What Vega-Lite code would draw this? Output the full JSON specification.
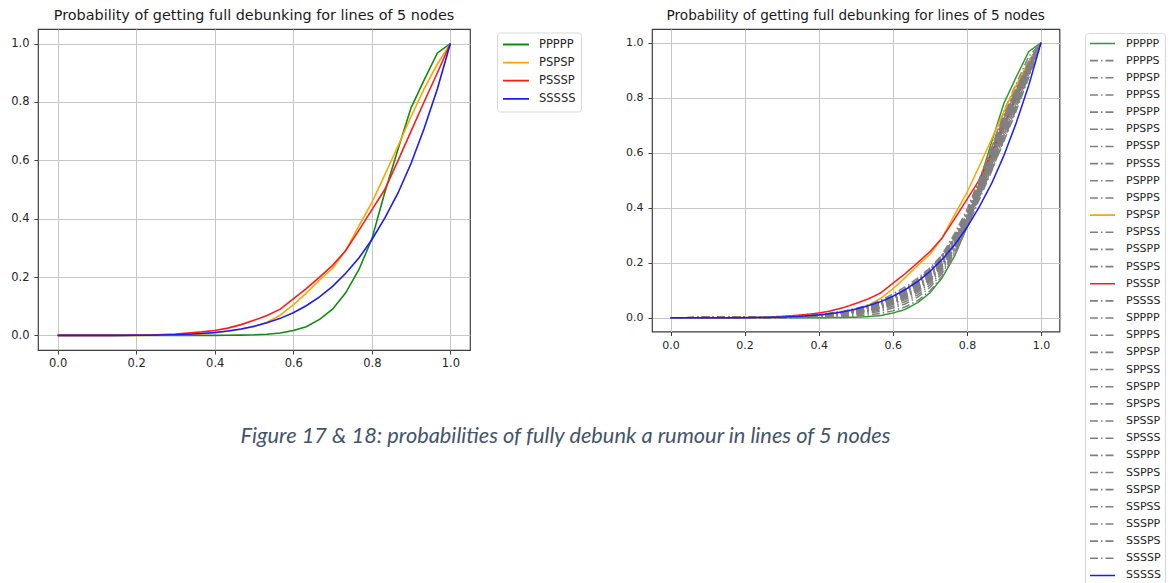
{
  "$schema": "https://vega.github.io/schema/vega-lite/v6.json",
  "background": "white",
  "padding": {"left": 10, "top": 7, "right": 5, "bottom": 5},
  "datasets": {
    "runs": [
      {"s":"PPPPP","x":0,"y":0},{"s":"PPPPP","x":0.033,"y":0},{"s":"PPPPP","x":0.067,"y":0},{"s":"PPPPP","x":0.1,"y":0},{"s":"PPPPP","x":0.133,"y":0},{"s":"PPPPP","x":0.167,"y":0},{"s":"PPPPP","x":0.2,"y":0},{"s":"PPPPP","x":0.233,"y":0},{"s":"PPPPP","x":0.267,"y":0},{"s":"PPPPP","x":0.3,"y":0},{"s":"PPPPP","x":0.333,"y":0},{"s":"PPPPP","x":0.367,"y":0},{"s":"PPPPP","x":0.4,"y":0},{"s":"PPPPP","x":0.433,"y":0.0005},{"s":"PPPPP","x":0.467,"y":0.001},{"s":"PPPPP","x":0.5,"y":0.002},{"s":"PPPPP","x":0.533,"y":0.004},{"s":"PPPPP","x":0.567,"y":0.008},{"s":"PPPPP","x":0.6,"y":0.017},{"s":"PPPPP","x":0.633,"y":0.03},{"s":"PPPPP","x":0.667,"y":0.055},{"s":"PPPPP","x":0.7,"y":0.09},{"s":"PPPPP","x":0.733,"y":0.145},{"s":"PPPPP","x":0.767,"y":0.225},{"s":"PPPPP","x":0.8,"y":0.33},{"s":"PPPPP","x":0.833,"y":0.49},{"s":"PPPPP","x":0.867,"y":0.64},{"s":"PPPPP","x":0.9,"y":0.78},{"s":"PPPPP","x":0.933,"y":0.875},{"s":"PPPPP","x":0.967,"y":0.968},{"s":"PPPPP","x":1,"y":1},

      {"s":"PPPPS","x":0,"y":0},{"s":"PPPPS","x":0.3,"y":0},{"s":"PPPPS","x":0.4,"y":0.002},{"s":"PPPPS","x":0.467,"y":0.004},{"s":"PPPPS","x":0.5,"y":0.006},{"s":"PPPPS","x":0.533,"y":0.01},{"s":"PPPPS","x":0.567,"y":0.016},{"s":"PPPPS","x":0.6,"y":0.025},{"s":"PPPPS","x":0.633,"y":0.039},{"s":"PPPPS","x":0.667,"y":0.062},{"s":"PPPPS","x":0.7,"y":0.097},{"s":"PPPPS","x":0.733,"y":0.151},{"s":"PPPPS","x":0.767,"y":0.227},{"s":"PPPPS","x":0.8,"y":0.33},{"s":"PPPPS","x":0.833,"y":0.477},{"s":"PPPPS","x":0.867,"y":0.617},{"s":"PPPPS","x":0.9,"y":0.752},{"s":"PPPPS","x":0.933,"y":0.85},{"s":"PPPPS","x":0.967,"y":0.95},{"s":"PPPPS","x":1,"y":1},

      {"s":"PPPSP","x":0,"y":0},{"s":"PPPSP","x":0.3,"y":0.001},{"s":"PPPSP","x":0.4,"y":0.003},{"s":"PPPSP","x":0.467,"y":0.007},{"s":"PPPSP","x":0.5,"y":0.011},{"s":"PPPSP","x":0.533,"y":0.016},{"s":"PPPSP","x":0.567,"y":0.023},{"s":"PPPSP","x":0.6,"y":0.035},{"s":"PPPSP","x":0.633,"y":0.05},{"s":"PPPSP","x":0.667,"y":0.075},{"s":"PPPSP","x":0.7,"y":0.11},{"s":"PPPSP","x":0.733,"y":0.162},{"s":"PPPSP","x":0.767,"y":0.234},{"s":"PPPSP","x":0.8,"y":0.329},{"s":"PPPSP","x":0.833,"y":0.464},{"s":"PPPSP","x":0.867,"y":0.595},{"s":"PPPSP","x":0.9,"y":0.723},{"s":"PPPSP","x":0.933,"y":0.825},{"s":"PPPSP","x":0.967,"y":0.931},{"s":"PPPSP","x":1,"y":1},

      {"s":"PPPSS","x":0,"y":0},{"s":"PPPSS","x":0.3,"y":0.001},{"s":"PPPSS","x":0.4,"y":0.004},{"s":"PPPSS","x":0.467,"y":0.01},{"s":"PPPSS","x":0.5,"y":0.014},{"s":"PPPSS","x":0.533,"y":0.02},{"s":"PPPSS","x":0.567,"y":0.028},{"s":"PPPSS","x":0.6,"y":0.041},{"s":"PPPSS","x":0.633,"y":0.058},{"s":"PPPSS","x":0.667,"y":0.083},{"s":"PPPSS","x":0.7,"y":0.119},{"s":"PPPSS","x":0.733,"y":0.169},{"s":"PPPSS","x":0.767,"y":0.239},{"s":"PPPSS","x":0.8,"y":0.329},{"s":"PPPSS","x":0.833,"y":0.455},{"s":"PPPSS","x":0.867,"y":0.58},{"s":"PPPSS","x":0.9,"y":0.704},{"s":"PPPSS","x":0.933,"y":0.809},{"s":"PPPSS","x":0.967,"y":0.919},{"s":"PPPSS","x":1,"y":1},

      {"s":"PPSPP","x":0,"y":0},{"s":"PPSPP","x":0.3,"y":0.002},{"s":"PPSPP","x":0.4,"y":0.006},{"s":"PPSPP","x":0.467,"y":0.013},{"s":"PPSPP","x":0.5,"y":0.019},{"s":"PPSPP","x":0.533,"y":0.026},{"s":"PPSPP","x":0.567,"y":0.036},{"s":"PPSPP","x":0.6,"y":0.053},{"s":"PPSPP","x":0.633,"y":0.072},{"s":"PPSPP","x":0.667,"y":0.1},{"s":"PPSPP","x":0.7,"y":0.137},{"s":"PPSPP","x":0.733,"y":0.189},{"s":"PPSPP","x":0.767,"y":0.262},{"s":"PPSPP","x":0.8,"y":0.355},{"s":"PPSPP","x":0.833,"y":0.48},{"s":"PPSPP","x":0.867,"y":0.608},{"s":"PPSPP","x":0.9,"y":0.732},{"s":"PPSPP","x":0.933,"y":0.832},{"s":"PPSPP","x":0.967,"y":0.933},{"s":"PPSPP","x":1,"y":1},

      {"s":"PPSPS","x":0,"y":0},{"s":"PPSPS","x":0.3,"y":0.002},{"s":"PPSPS","x":0.4,"y":0.006},{"s":"PPSPS","x":0.467,"y":0.013},{"s":"PPSPS","x":0.5,"y":0.019},{"s":"PPSPS","x":0.533,"y":0.026},{"s":"PPSPS","x":0.567,"y":0.036},{"s":"PPSPS","x":0.6,"y":0.051},{"s":"PPSPS","x":0.633,"y":0.07},{"s":"PPSPS","x":0.667,"y":0.098},{"s":"PPSPS","x":0.7,"y":0.133},{"s":"PPSPS","x":0.733,"y":0.185},{"s":"PPSPS","x":0.767,"y":0.255},{"s":"PPSPS","x":0.8,"y":0.344},{"s":"PPSPS","x":0.833,"y":0.466},{"s":"PPSPS","x":0.867,"y":0.589},{"s":"PPSPS","x":0.9,"y":0.711},{"s":"PPSPS","x":0.933,"y":0.814},{"s":"PPSPS","x":0.967,"y":0.921},{"s":"PPSPS","x":1,"y":1},

      {"s":"PPSSP","x":0,"y":0},{"s":"PPSSP","x":0.3,"y":0.003},{"s":"PPSSP","x":0.4,"y":0.009},{"s":"PPSSP","x":0.467,"y":0.019},{"s":"PPSSP","x":0.5,"y":0.027},{"s":"PPSSP","x":0.533,"y":0.036},{"s":"PPSSP","x":0.567,"y":0.049},{"s":"PPSSP","x":0.6,"y":0.071},{"s":"PPSSP","x":0.633,"y":0.094},{"s":"PPSSP","x":0.667,"y":0.125},{"s":"PPSSP","x":0.7,"y":0.163},{"s":"PPSSP","x":0.733,"y":0.215},{"s":"PPSSP","x":0.767,"y":0.29},{"s":"PPSSP","x":0.8,"y":0.38},{"s":"PPSSP","x":0.833,"y":0.495},{"s":"PPSSP","x":0.867,"y":0.62},{"s":"PPSSP","x":0.9,"y":0.74},{"s":"PPSSP","x":0.933,"y":0.838},{"s":"PPSSP","x":0.967,"y":0.934},{"s":"PPSSP","x":1,"y":1},

      {"s":"PPSSS","x":0,"y":0},{"s":"PPSSS","x":0.3,"y":0.001},{"s":"PPSSS","x":0.4,"y":0.005},{"s":"PPSSS","x":0.467,"y":0.012},{"s":"PPSSS","x":0.5,"y":0.017},{"s":"PPSSS","x":0.533,"y":0.024},{"s":"PPSSS","x":0.567,"y":0.033},{"s":"PPSSS","x":0.6,"y":0.047},{"s":"PPSSS","x":0.633,"y":0.065},{"s":"PPSSS","x":0.667,"y":0.091},{"s":"PPSSS","x":0.7,"y":0.127},{"s":"PPSSS","x":0.733,"y":0.176},{"s":"PPSSS","x":0.767,"y":0.243},{"s":"PPSSS","x":0.8,"y":0.329},{"s":"PPSSS","x":0.833,"y":0.446},{"s":"PPSSS","x":0.867,"y":0.565},{"s":"PPSSS","x":0.9,"y":0.685},{"s":"PPSSS","x":0.933,"y":0.792},{"s":"PPSSS","x":0.967,"y":0.907},{"s":"PPSSS","x":1,"y":1},

      {"s":"PSPPP","x":0,"y":0},{"s":"PSPPP","x":0.3,"y":0.001},{"s":"PSPPP","x":0.4,"y":0.005},{"s":"PSPPP","x":0.467,"y":0.011},{"s":"PSPPP","x":0.5,"y":0.017},{"s":"PSPPP","x":0.533,"y":0.024},{"s":"PSPPP","x":0.567,"y":0.036},{"s":"PSPPP","x":0.6,"y":0.054},{"s":"PSPPP","x":0.633,"y":0.076},{"s":"PSPPP","x":0.667,"y":0.106},{"s":"PSPPP","x":0.7,"y":0.142},{"s":"PSPPP","x":0.733,"y":0.196},{"s":"PSPPP","x":0.767,"y":0.271},{"s":"PSPPP","x":0.8,"y":0.361},{"s":"PSPPP","x":0.833,"y":0.483},{"s":"PSPPP","x":0.867,"y":0.605},{"s":"PSPPP","x":0.9,"y":0.725},{"s":"PSPPP","x":0.933,"y":0.826},{"s":"PSPPP","x":0.967,"y":0.928},{"s":"PSPPP","x":1,"y":1},

      {"s":"PSPPS","x":0,"y":0},{"s":"PSPPS","x":0.3,"y":0.002},{"s":"PSPPS","x":0.4,"y":0.007},{"s":"PSPPS","x":0.467,"y":0.015},{"s":"PSPPS","x":0.5,"y":0.022},{"s":"PSPPS","x":0.533,"y":0.03},{"s":"PSPPS","x":0.567,"y":0.041},{"s":"PSPPS","x":0.6,"y":0.058},{"s":"PSPPS","x":0.633,"y":0.078},{"s":"PSPPS","x":0.667,"y":0.106},{"s":"PSPPS","x":0.7,"y":0.142},{"s":"PSPPS","x":0.733,"y":0.192},{"s":"PSPPS","x":0.767,"y":0.26},{"s":"PSPPS","x":0.8,"y":0.344},{"s":"PSPPS","x":0.833,"y":0.457},{"s":"PSPPS","x":0.867,"y":0.574},{"s":"PSPPS","x":0.9,"y":0.692},{"s":"PSPPS","x":0.933,"y":0.797},{"s":"PSPPS","x":0.967,"y":0.909},{"s":"PSPPS","x":1,"y":1},

      {"s":"PSPSP","x":0,"y":0},{"s":"PSPSP","x":0.033,"y":0},{"s":"PSPSP","x":0.067,"y":0},{"s":"PSPSP","x":0.1,"y":0},{"s":"PSPSP","x":0.133,"y":0},{"s":"PSPSP","x":0.167,"y":0},{"s":"PSPSP","x":0.2,"y":0},{"s":"PSPSP","x":0.233,"y":0.0003},{"s":"PSPSP","x":0.267,"y":0.001},{"s":"PSPSP","x":0.3,"y":0.002},{"s":"PSPSP","x":0.333,"y":0.003},{"s":"PSPSP","x":0.367,"y":0.005},{"s":"PSPSP","x":0.4,"y":0.009},{"s":"PSPSP","x":0.433,"y":0.014},{"s":"PSPSP","x":0.467,"y":0.021},{"s":"PSPSP","x":0.5,"y":0.03},{"s":"PSPSP","x":0.533,"y":0.045},{"s":"PSPSP","x":0.567,"y":0.07},{"s":"PSPSP","x":0.6,"y":0.105},{"s":"PSPSP","x":0.633,"y":0.145},{"s":"PSPSP","x":0.667,"y":0.19},{"s":"PSPSP","x":0.7,"y":0.23},{"s":"PSPSP","x":0.733,"y":0.29},{"s":"PSPSP","x":0.767,"y":0.375},{"s":"PSPSP","x":0.8,"y":0.455},{"s":"PSPSP","x":0.833,"y":0.55},{"s":"PSPSP","x":0.867,"y":0.65},{"s":"PSPSP","x":0.9,"y":0.75},{"s":"PSPSP","x":0.933,"y":0.845},{"s":"PSPSP","x":0.967,"y":0.93},{"s":"PSPSP","x":1,"y":1},

      {"s":"PSPSS","x":0,"y":0},{"s":"PSPSS","x":0.3,"y":0.002},{"s":"PSPSS","x":0.4,"y":0.007},{"s":"PSPSS","x":0.467,"y":0.016},{"s":"PSPSS","x":0.5,"y":0.022},{"s":"PSPSS","x":0.533,"y":0.03},{"s":"PSPSS","x":0.567,"y":0.041},{"s":"PSPSS","x":0.6,"y":0.059},{"s":"PSPSS","x":0.633,"y":0.08},{"s":"PSPSS","x":0.667,"y":0.108},{"s":"PSPSS","x":0.7,"y":0.145},{"s":"PSPSS","x":0.733,"y":0.196},{"s":"PSPSS","x":0.767,"y":0.267},{"s":"PSPSS","x":0.8,"y":0.355},{"s":"PSPSS","x":0.833,"y":0.471},{"s":"PSPSS","x":0.867,"y":0.593},{"s":"PSPSS","x":0.9,"y":0.713},{"s":"PSPSS","x":0.933,"y":0.815},{"s":"PSPSS","x":0.967,"y":0.921},{"s":"PSPSS","x":1,"y":1},

      {"s":"PSSPP","x":0,"y":0},{"s":"PSSPP","x":0.3,"y":0.001},{"s":"PSSPP","x":0.4,"y":0.007},{"s":"PSSPP","x":0.467,"y":0.015},{"s":"PSSPP","x":0.5,"y":0.022},{"s":"PSSPP","x":0.533,"y":0.032},{"s":"PSSPP","x":0.567,"y":0.049},{"s":"PSSPP","x":0.6,"y":0.073},{"s":"PSSPP","x":0.633,"y":0.101},{"s":"PSSPP","x":0.667,"y":0.136},{"s":"PSSPP","x":0.7,"y":0.174},{"s":"PSSPP","x":0.733,"y":0.229},{"s":"PSSPP","x":0.767,"y":0.307},{"s":"PSSPP","x":0.8,"y":0.392},{"s":"PSSPP","x":0.833,"y":0.502},{"s":"PSSPP","x":0.867,"y":0.615},{"s":"PSSPP","x":0.9,"y":0.727},{"s":"PSSPP","x":0.933,"y":0.827},{"s":"PSSPP","x":0.967,"y":0.924},{"s":"PSSPP","x":1,"y":1},

      {"s":"PSSPS","x":0,"y":0},{"s":"PSSPS","x":0.3,"y":0.001},{"s":"PSSPS","x":0.4,"y":0.006},{"s":"PSSPS","x":0.467,"y":0.014},{"s":"PSSPS","x":0.5,"y":0.02},{"s":"PSSPS","x":0.533,"y":0.028},{"s":"PSSPS","x":0.567,"y":0.041},{"s":"PSSPS","x":0.6,"y":0.06},{"s":"PSSPS","x":0.633,"y":0.083},{"s":"PSSPS","x":0.667,"y":0.114},{"s":"PSSPS","x":0.7,"y":0.151},{"s":"PSSPS","x":0.733,"y":0.203},{"s":"PSSPS","x":0.767,"y":0.275},{"s":"PSSPS","x":0.8,"y":0.361},{"s":"PSSPS","x":0.833,"y":0.474},{"s":"PSSPS","x":0.867,"y":0.59},{"s":"PSSPS","x":0.9,"y":0.706},{"s":"PSSPS","x":0.933,"y":0.81},{"s":"PSSPS","x":0.967,"y":0.916},{"s":"PSSPS","x":1,"y":1},

      {"s":"PSSSP","x":0,"y":0},{"s":"PSSSP","x":0.033,"y":0},{"s":"PSSSP","x":0.067,"y":0},{"s":"PSSSP","x":0.1,"y":0},{"s":"PSSSP","x":0.133,"y":0.0002},{"s":"PSSSP","x":0.167,"y":0.0005},{"s":"PSSSP","x":0.2,"y":0.001},{"s":"PSSSP","x":0.233,"y":0.0015},{"s":"PSSSP","x":0.267,"y":0.003},{"s":"PSSSP","x":0.3,"y":0.005},{"s":"PSSSP","x":0.333,"y":0.008},{"s":"PSSSP","x":0.367,"y":0.012},{"s":"PSSSP","x":0.4,"y":0.017},{"s":"PSSSP","x":0.433,"y":0.025},{"s":"PSSSP","x":0.467,"y":0.037},{"s":"PSSSP","x":0.5,"y":0.052},{"s":"PSSSP","x":0.533,"y":0.068},{"s":"PSSSP","x":0.567,"y":0.09},{"s":"PSSSP","x":0.6,"y":0.125},{"s":"PSSSP","x":0.633,"y":0.16},{"s":"PSSSP","x":0.667,"y":0.2},{"s":"PSSSP","x":0.7,"y":0.24},{"s":"PSSSP","x":0.733,"y":0.29},{"s":"PSSSP","x":0.767,"y":0.36},{"s":"PSSSP","x":0.8,"y":0.43},{"s":"PSSSP","x":0.833,"y":0.5},{"s":"PSSSP","x":0.867,"y":0.6},{"s":"PSSSP","x":0.9,"y":0.7},{"s":"PSSSP","x":0.933,"y":0.8},{"s":"PSSSP","x":0.967,"y":0.9},{"s":"PSSSP","x":1,"y":1},

      {"s":"PSSSS","x":0,"y":0},{"s":"PSSSS","x":0.3,"y":0.001},{"s":"PSSSS","x":0.4,"y":0.006},{"s":"PSSSS","x":0.467,"y":0.014},{"s":"PSSSS","x":0.5,"y":0.02},{"s":"PSSSS","x":0.533,"y":0.028},{"s":"PSSSS","x":0.567,"y":0.038},{"s":"PSSSS","x":0.6,"y":0.053},{"s":"PSSSS","x":0.633,"y":0.073},{"s":"PSSSS","x":0.667,"y":0.099},{"s":"PSSSS","x":0.7,"y":0.135},{"s":"PSSSS","x":0.733,"y":0.183},{"s":"PSSSS","x":0.767,"y":0.248},{"s":"PSSSS","x":0.8,"y":0.329},{"s":"PSSSS","x":0.833,"y":0.437},{"s":"PSSSS","x":0.867,"y":0.55},{"s":"PSSSS","x":0.9,"y":0.666},{"s":"PSSSS","x":0.933,"y":0.775},{"s":"PSSSS","x":0.967,"y":0.895},{"s":"PSSSS","x":1,"y":1},

      {"s":"SPPPP","x":0,"y":0},{"s":"SPPPP","x":0.3,"y":0.003},{"s":"SPPPP","x":0.4,"y":0.009},{"s":"SPPPP","x":0.467,"y":0.019},{"s":"SPPPP","x":0.5,"y":0.027},{"s":"SPPPP","x":0.533,"y":0.036},{"s":"SPPPP","x":0.567,"y":0.049},{"s":"SPPPP","x":0.6,"y":0.069},{"s":"SPPPP","x":0.633,"y":0.092},{"s":"SPPPP","x":0.667,"y":0.123},{"s":"SPPPP","x":0.7,"y":0.16},{"s":"SPPPP","x":0.733,"y":0.211},{"s":"SPPPP","x":0.767,"y":0.283},{"s":"SPPPP","x":0.8,"y":0.37},{"s":"SPPPP","x":0.833,"y":0.481},{"s":"SPPPP","x":0.867,"y":0.602},{"s":"SPPPP","x":0.9,"y":0.72},{"s":"SPPPP","x":0.933,"y":0.82},{"s":"SPPPP","x":0.967,"y":0.923},{"s":"SPPPP","x":1,"y":1},

      {"s":"SPPPS","x":0,"y":0},{"s":"SPPPS","x":0.3,"y":0.002},{"s":"SPPPS","x":0.4,"y":0.008},{"s":"SPPPS","x":0.467,"y":0.018},{"s":"SPPPS","x":0.5,"y":0.025},{"s":"SPPPS","x":0.533,"y":0.034},{"s":"SPPPS","x":0.567,"y":0.046},{"s":"SPPPS","x":0.6,"y":0.065},{"s":"SPPPS","x":0.633,"y":0.087},{"s":"SPPPS","x":0.667,"y":0.116},{"s":"SPPPS","x":0.7,"y":0.153},{"s":"SPPPS","x":0.733,"y":0.203},{"s":"SPPPS","x":0.767,"y":0.271},{"s":"SPPPS","x":0.8,"y":0.355},{"s":"SPPPS","x":0.833,"y":0.462},{"s":"SPPPS","x":0.867,"y":0.577},{"s":"SPPPS","x":0.9,"y":0.694},{"s":"SPPPS","x":0.933,"y":0.798},{"s":"SPPPS","x":0.967,"y":0.908},{"s":"SPPPS","x":1,"y":1},

      {"s":"SPPSP","x":0,"y":0},{"s":"SPPSP","x":0.3,"y":0.002},{"s":"SPPSP","x":0.4,"y":0.008},{"s":"SPPSP","x":0.467,"y":0.018},{"s":"SPPSP","x":0.5,"y":0.026},{"s":"SPPSP","x":0.533,"y":0.035},{"s":"SPPSP","x":0.567,"y":0.048},{"s":"SPPSP","x":0.6,"y":0.067},{"s":"SPPSP","x":0.633,"y":0.09},{"s":"SPPSP","x":0.667,"y":0.12},{"s":"SPPSP","x":0.7,"y":0.156},{"s":"SPPSP","x":0.733,"y":0.207},{"s":"SPPSP","x":0.767,"y":0.276},{"s":"SPPSP","x":0.8,"y":0.359},{"s":"SPPSP","x":0.833,"y":0.467},{"s":"SPPSP","x":0.867,"y":0.583},{"s":"SPPSP","x":0.9,"y":0.699},{"s":"SPPSP","x":0.933,"y":0.802},{"s":"SPPSP","x":0.967,"y":0.911},{"s":"SPPSP","x":1,"y":1},

      {"s":"SPPSS","x":0,"y":0},{"s":"SPPSS","x":0.3,"y":0.001},{"s":"SPPSS","x":0.4,"y":0.007},{"s":"SPPSS","x":0.467,"y":0.016},{"s":"SPPSS","x":0.5,"y":0.022},{"s":"SPPSS","x":0.533,"y":0.031},{"s":"SPPSS","x":0.567,"y":0.043},{"s":"SPPSS","x":0.6,"y":0.059},{"s":"SPPSS","x":0.633,"y":0.08},{"s":"SPPSS","x":0.667,"y":0.107},{"s":"SPPSS","x":0.7,"y":0.143},{"s":"SPPSS","x":0.733,"y":0.19},{"s":"SPPSS","x":0.767,"y":0.252},{"s":"SPPSS","x":0.8,"y":0.329},{"s":"SPPSS","x":0.833,"y":0.428},{"s":"SPPSS","x":0.867,"y":0.534},{"s":"SPPSS","x":0.9,"y":0.647},{"s":"SPPSS","x":0.933,"y":0.758},{"s":"SPPSS","x":0.967,"y":0.882},{"s":"SPPSS","x":1,"y":1},

      {"s":"SPSPP","x":0,"y":0},{"s":"SPSPP","x":0.3,"y":0.002},{"s":"SPSPP","x":0.4,"y":0.008},{"s":"SPSPP","x":0.467,"y":0.017},{"s":"SPSPP","x":0.5,"y":0.025},{"s":"SPSPP","x":0.533,"y":0.034},{"s":"SPSPP","x":0.567,"y":0.049},{"s":"SPSPP","x":0.6,"y":0.072},{"s":"SPSPP","x":0.633,"y":0.098},{"s":"SPSPP","x":0.667,"y":0.131},{"s":"SPSPP","x":0.7,"y":0.169},{"s":"SPSPP","x":0.733,"y":0.222},{"s":"SPSPP","x":0.767,"y":0.299},{"s":"SPSPP","x":0.8,"y":0.386},{"s":"SPSPP","x":0.833,"y":0.499},{"s":"SPSPP","x":0.867,"y":0.618},{"s":"SPSPP","x":0.9,"y":0.734},{"s":"SPSPP","x":0.933,"y":0.833},{"s":"SPSPP","x":0.967,"y":0.929},{"s":"SPSPP","x":1,"y":1},

      {"s":"SPSPS","x":0,"y":0},{"s":"SPSPS","x":0.3,"y":0.002},{"s":"SPSPS","x":0.4,"y":0.008},{"s":"SPSPS","x":0.467,"y":0.017},{"s":"SPSPS","x":0.5,"y":0.024},{"s":"SPSPS","x":0.533,"y":0.034},{"s":"SPSPS","x":0.567,"y":0.049},{"s":"SPSPS","x":0.6,"y":0.07},{"s":"SPSPS","x":0.633,"y":0.096},{"s":"SPSPS","x":0.667,"y":0.128},{"s":"SPSPS","x":0.7,"y":0.165},{"s":"SPSPS","x":0.733,"y":0.218},{"s":"SPSPS","x":0.767,"y":0.292},{"s":"SPSPS","x":0.8,"y":0.376},{"s":"SPSPS","x":0.833,"y":0.485},{"s":"SPSPS","x":0.867,"y":0.599},{"s":"SPSPS","x":0.9,"y":0.713},{"s":"SPSPS","x":0.933,"y":0.815},{"s":"SPSPS","x":0.967,"y":0.918},{"s":"SPSPS","x":1,"y":1},

      {"s":"SPSSP","x":0,"y":0},{"s":"SPSSP","x":0.3,"y":0.003},{"s":"SPSSP","x":0.4,"y":0.009},{"s":"SPSSP","x":0.467,"y":0.02},{"s":"SPSSP","x":0.5,"y":0.029},{"s":"SPSSP","x":0.533,"y":0.039},{"s":"SPSSP","x":0.567,"y":0.053},{"s":"SPSSP","x":0.6,"y":0.074},{"s":"SPSSP","x":0.633,"y":0.098},{"s":"SPSSP","x":0.667,"y":0.128},{"s":"SPSSP","x":0.7,"y":0.165},{"s":"SPSSP","x":0.733,"y":0.214},{"s":"SPSSP","x":0.767,"y":0.281},{"s":"SPSSP","x":0.8,"y":0.359},{"s":"SPSSP","x":0.833,"y":0.458},{"s":"SPSSP","x":0.867,"y":0.568},{"s":"SPSSP","x":0.9,"y":0.68},{"s":"SPSSP","x":0.933,"y":0.786},{"s":"SPSSP","x":0.967,"y":0.899},{"s":"SPSSP","x":1,"y":1},

      {"s":"SPSSS","x":0,"y":0},{"s":"SPSSS","x":0.3,"y":0.002},{"s":"SPSSS","x":0.4,"y":0.009},{"s":"SPSSS","x":0.467,"y":0.019},{"s":"SPSSS","x":0.5,"y":0.027},{"s":"SPSSS","x":0.533,"y":0.037},{"s":"SPSSS","x":0.567,"y":0.051},{"s":"SPSSS","x":0.6,"y":0.07},{"s":"SPSSS","x":0.633,"y":0.093},{"s":"SPSSS","x":0.667,"y":0.122},{"s":"SPSSS","x":0.7,"y":0.158},{"s":"SPSSS","x":0.733,"y":0.206},{"s":"SPSSS","x":0.767,"y":0.269},{"s":"SPSSS","x":0.8,"y":0.344},{"s":"SPSSS","x":0.833,"y":0.439},{"s":"SPSSS","x":0.867,"y":0.544},{"s":"SPSSS","x":0.9,"y":0.654},{"s":"SPSSS","x":0.933,"y":0.764},{"s":"SPSSS","x":0.967,"y":0.884},{"s":"SPSSS","x":1,"y":1},

      {"s":"SSPPP","x":0,"y":0},{"s":"SSPPP","x":0.3,"y":0.003},{"s":"SSPPP","x":0.4,"y":0.01},{"s":"SSPPP","x":0.467,"y":0.021},{"s":"SSPPP","x":0.5,"y":0.03},{"s":"SSPPP","x":0.533,"y":0.04},{"s":"SSPPP","x":0.567,"y":0.054},{"s":"SSPPP","x":0.6,"y":0.076},{"s":"SSPPP","x":0.633,"y":0.1},{"s":"SSPPP","x":0.667,"y":0.131},{"s":"SSPPP","x":0.7,"y":0.168},{"s":"SSPPP","x":0.733,"y":0.218},{"s":"SSPPP","x":0.767,"y":0.288},{"s":"SSPPP","x":0.8,"y":0.37},{"s":"SSPPP","x":0.833,"y":0.472},{"s":"SSPPP","x":0.867,"y":0.587},{"s":"SSPPP","x":0.9,"y":0.701},{"s":"SSPPP","x":0.933,"y":0.804},{"s":"SSPPP","x":0.967,"y":0.91},{"s":"SSPPP","x":1,"y":1},

      {"s":"SSPPS","x":0,"y":0},{"s":"SSPPS","x":0.3,"y":0.001},{"s":"SSPPS","x":0.4,"y":0.007},{"s":"SSPPS","x":0.467,"y":0.016},{"s":"SSPPS","x":0.5,"y":0.022},{"s":"SSPPS","x":0.533,"y":0.032},{"s":"SSPPS","x":0.567,"y":0.046},{"s":"SSPPS","x":0.6,"y":0.066},{"s":"SSPPS","x":0.633,"y":0.091},{"s":"SSPPS","x":0.667,"y":0.122},{"s":"SSPPS","x":0.7,"y":0.159},{"s":"SSPPS","x":0.733,"y":0.21},{"s":"SSPPS","x":0.767,"y":0.28},{"s":"SSPPS","x":0.8,"y":0.361},{"s":"SSPPS","x":0.833,"y":0.465},{"s":"SSPPS","x":0.867,"y":0.575},{"s":"SSPPS","x":0.9,"y":0.687},{"s":"SSPPS","x":0.933,"y":0.793},{"s":"SSPPS","x":0.967,"y":0.903},{"s":"SSPPS","x":1,"y":1},

      {"s":"SSPSP","x":0,"y":0},{"s":"SSPSP","x":0.3,"y":0.002},{"s":"SSPSP","x":0.4,"y":0.009},{"s":"SSPSP","x":0.467,"y":0.019},{"s":"SSPSP","x":0.5,"y":0.027},{"s":"SSPSP","x":0.533,"y":0.038},{"s":"SSPSP","x":0.567,"y":0.054},{"s":"SSPSP","x":0.6,"y":0.077},{"s":"SSPSP","x":0.633,"y":0.103},{"s":"SSPSP","x":0.667,"y":0.136},{"s":"SSPSP","x":0.7,"y":0.174},{"s":"SSPSP","x":0.733,"y":0.225},{"s":"SSPSP","x":0.767,"y":0.296},{"s":"SSPSP","x":0.8,"y":0.376},{"s":"SSPSP","x":0.833,"y":0.476},{"s":"SSPSP","x":0.867,"y":0.584},{"s":"SSPSP","x":0.9,"y":0.694},{"s":"SSPSP","x":0.933,"y":0.798},{"s":"SSPSP","x":0.967,"y":0.905},{"s":"SSPSP","x":1,"y":1},

      {"s":"SSPSS","x":0,"y":0},{"s":"SSPSS","x":0.3,"y":0.002},{"s":"SSPSS","x":0.4,"y":0.008},{"s":"SSPSS","x":0.467,"y":0.017},{"s":"SSPSS","x":0.5,"y":0.025},{"s":"SSPSS","x":0.533,"y":0.034},{"s":"SSPSS","x":0.567,"y":0.046},{"s":"SSPSS","x":0.6,"y":0.064},{"s":"SSPSS","x":0.633,"y":0.085},{"s":"SSPSS","x":0.667,"y":0.114},{"s":"SSPSS","x":0.7,"y":0.15},{"s":"SSPSS","x":0.733,"y":0.199},{"s":"SSPSS","x":0.767,"y":0.264},{"s":"SSPSS","x":0.8,"y":0.344},{"s":"SSPSS","x":0.833,"y":0.448},{"s":"SSPSS","x":0.867,"y":0.559},{"s":"SSPSS","x":0.9,"y":0.673},{"s":"SSPSS","x":0.933,"y":0.781},{"s":"SSPSS","x":0.967,"y":0.897},{"s":"SSPSS","x":1,"y":1},

      {"s":"SSSPP","x":0,"y":0},{"s":"SSSPP","x":0.3,"y":0.002},{"s":"SSSPP","x":0.4,"y":0.008},{"s":"SSSPP","x":0.467,"y":0.019},{"s":"SSSPP","x":0.5,"y":0.026},{"s":"SSSPP","x":0.533,"y":0.038},{"s":"SSSPP","x":0.567,"y":0.054},{"s":"SSSPP","x":0.6,"y":0.077},{"s":"SSSPP","x":0.633,"y":0.104},{"s":"SSSPP","x":0.667,"y":0.137},{"s":"SSSPP","x":0.7,"y":0.174},{"s":"SSSPP","x":0.733,"y":0.225},{"s":"SSSPP","x":0.767,"y":0.291},{"s":"SSSPP","x":0.8,"y":0.366},{"s":"SSSPP","x":0.833,"y":0.46},{"s":"SSSPP","x":0.867,"y":0.56},{"s":"SSSPP","x":0.9,"y":0.667},{"s":"SSSPP","x":0.933,"y":0.774},{"s":"SSSPP","x":0.967,"y":0.889},{"s":"SSSPP","x":1,"y":1},

      {"s":"SSSPS","x":0,"y":0},{"s":"SSSPS","x":0.3,"y":0.003},{"s":"SSSPS","x":0.4,"y":0.01},{"s":"SSSPS","x":0.467,"y":0.022},{"s":"SSSPS","x":0.5,"y":0.032},{"s":"SSSPS","x":0.533,"y":0.043},{"s":"SSSPS","x":0.567,"y":0.058},{"s":"SSSPS","x":0.6,"y":0.08},{"s":"SSSPS","x":0.633,"y":0.105},{"s":"SSSPS","x":0.667,"y":0.136},{"s":"SSSPS","x":0.7,"y":0.173},{"s":"SSSPS","x":0.733,"y":0.221},{"s":"SSSPS","x":0.767,"y":0.285},{"s":"SSSPS","x":0.8,"y":0.359},{"s":"SSSPS","x":0.833,"y":0.449},{"s":"SSSPS","x":0.867,"y":0.553},{"s":"SSSPS","x":0.9,"y":0.661},{"s":"SSSPS","x":0.933,"y":0.769},{"s":"SSSPS","x":0.967,"y":0.886},{"s":"SSSPS","x":1,"y":1},

      {"s":"SSSSP","x":0,"y":0},{"s":"SSSSP","x":0.3,"y":0.003},{"s":"SSSSP","x":0.4,"y":0.011},{"s":"SSSSP","x":0.467,"y":0.024},{"s":"SSSSP","x":0.5,"y":0.034},{"s":"SSSSP","x":0.533,"y":0.047},{"s":"SSSSP","x":0.567,"y":0.063},{"s":"SSSSP","x":0.6,"y":0.086},{"s":"SSSSP","x":0.633,"y":0.112},{"s":"SSSSP","x":0.667,"y":0.144},{"s":"SSSSP","x":0.7,"y":0.181},{"s":"SSSSP","x":0.733,"y":0.228},{"s":"SSSSP","x":0.767,"y":0.289},{"s":"SSSSP","x":0.8,"y":0.359},{"s":"SSSSP","x":0.833,"y":0.44},{"s":"SSSSP","x":0.867,"y":0.537},{"s":"SSSSP","x":0.9,"y":0.642},{"s":"SSSSP","x":0.933,"y":0.752},{"s":"SSSSP","x":0.967,"y":0.874},{"s":"SSSSP","x":1,"y":1},

      {"s":"SSSSS","x":0,"y":0},{"s":"SSSSS","x":0.033,"y":0},{"s":"SSSSS","x":0.067,"y":0},{"s":"SSSSS","x":0.1,"y":0},{"s":"SSSSS","x":0.133,"y":0},{"s":"SSSSS","x":0.167,"y":0.0001},{"s":"SSSSS","x":0.2,"y":0.0003},{"s":"SSSSS","x":0.233,"y":0.0007},{"s":"SSSSS","x":0.267,"y":0.0013},{"s":"SSSSS","x":0.3,"y":0.0024},{"s":"SSSSS","x":0.333,"y":0.0041},{"s":"SSSSS","x":0.367,"y":0.0066},{"s":"SSSSS","x":0.4,"y":0.0102},{"s":"SSSSS","x":0.433,"y":0.0153},{"s":"SSSSS","x":0.467,"y":0.0221},{"s":"SSSSS","x":0.5,"y":0.0313},{"s":"SSSSS","x":0.533,"y":0.0432},{"s":"SSSSS","x":0.567,"y":0.0584},{"s":"SSSSS","x":0.6,"y":0.0778},{"s":"SSSSS","x":0.633,"y":0.1017},{"s":"SSSSS","x":0.667,"y":0.1317},{"s":"SSSSS","x":0.7,"y":0.168},{"s":"SSSSS","x":0.733,"y":0.212},{"s":"SSSSS","x":0.767,"y":0.265},{"s":"SSSSS","x":0.8,"y":0.328},{"s":"SSSSS","x":0.833,"y":0.402},{"s":"SSSSS","x":0.867,"y":0.489},{"s":"SSSSS","x":0.9,"y":0.59},{"s":"SSSSS","x":0.933,"y":0.708},{"s":"SSSSS","x":0.967,"y":0.845},{"s":"SSSSS","x":1,"y":1}
    ]
  },
  "spacing": 182,
  "bounds": "flush",
  "resolve": {
    "scale": {"x": "independent", "y": "independent", "color": "independent", "strokeDash": "independent"},
    "axis": {"x": "independent", "y": "independent"},
    "legend": {"color": "independent", "strokeDash": "independent"}
  },
  "hconcat": [
    {
      "width": 432,
      "height": 321,
      "title": {"text": "Probability of getting full debunking for lines of 5 nodes", "fontSize": 14.4},
      "data": {"name": "runs"},
      "transform": [{"filter": {"field": "s", "oneOf": ["PPPPP", "PSPSP", "PSSSP", "SSSSS"]}}],
      "mark": {"type": "line", "strokeWidth": 1.6},
      "encoding": {
        "x": {
          "field": "x", "type": "quantitative",
          "scale": {"domain": [-0.05, 1.05], "nice": false, "zero": false},
          "axis": {
            "values": [0, 0.2, 0.4, 0.6, 0.8, 1], "format": ".1f", "labelPadding": 3,
            "title": "Figure 17 & 18: probabilities of fully debunk a rumour in lines of 5 nodes",
            "titleX": 527, "titleY": 92, "titleAlign": "center", "titleBaseline": "alphabetic",
            "titleFont": "Lato", "titleFontStyle": "italic", "titleFontWeight": "normal",
            "titleFontSize": 21.8, "titleColor": "#44546a"
          }
        },
        "y": {
          "field": "y", "type": "quantitative",
          "scale": {"domain": [-0.05, 1.05], "nice": false, "zero": false},
          "axis": {"values": [0, 0.2, 0.4, 0.6, 0.8, 1], "format": ".1f", "title": null}
        },
        "color": {
          "field": "s", "type": "nominal",
          "scale": {"domain": ["PPPPP", "PSPSP", "PSSSP", "SSSSS"], "range": ["#118a11", "#ffa500", "#ff1a1a", "#1a1aff"]},
          "legend": {
            "title": null, "orient": "none", "direction": "vertical", "legendX": 459, "legendY": 3.5,
            "symbolType": "stroke", "symbolSize": 676, "symbolStrokeWidth": 1.8,
            "labelFontSize": 11.5, "labelOffset": 9, "clipHeight": 14, "rowPadding": 4.1, "padding": 5
          }
        }
      }
    },
    {
      "width": 407.5,
      "height": 302.5,
      "title": {"text": "Probability of getting full debunking for lines of 5 nodes", "fontSize": 13.6},
      "data": {"name": "runs"},
      "mark": {"type": "line", "strokeWidth": 1.5},
      "encoding": {
        "x": {
          "field": "x", "type": "quantitative",
          "scale": {"domain": [-0.05, 1.05], "nice": false, "zero": false},
          "axis": {"values": [0, 0.2, 0.4, 0.6, 0.8, 1], "format": ".1f", "title": null, "labelFontSize": 11, "labelPadding": 4}
        },
        "y": {
          "field": "y", "type": "quantitative",
          "scale": {"domain": [-0.05, 1.05], "nice": false, "zero": false},
          "axis": {"values": [0, 0.2, 0.4, 0.6, 0.8, 1], "format": ".1f", "title": null, "labelFontSize": 11}
        },
        "color": {
          "field": "s", "type": "nominal",
          "scale": {
            "domain": ["PPPPP","PPPPS","PPPSP","PPPSS","PPSPP","PPSPS","PPSSP","PPSSS","PSPPP","PSPPS","PSPSP","PSPSS","PSSPP","PSSPS","PSSSP","PSSSS","SPPPP","SPPPS","SPPSP","SPPSS","SPSPP","SPSPS","SPSSP","SPSSS","SSPPP","SSPPS","SSPSP","SSPSS","SSSPP","SSSPS","SSSSP","SSSSS"],
            "range": ["#2f9a2f","#808080","#808080","#808080","#808080","#808080","#808080","#808080","#808080","#808080","#ffa500","#808080","#808080","#808080","#ff1a1a","#808080","#808080","#808080","#808080","#808080","#808080","#808080","#808080","#808080","#808080","#808080","#808080","#808080","#808080","#808080","#808080","#1a1aff"]
          },
          "legend": {
            "title": null, "orient": "none", "direction": "vertical", "legendX": 433, "legendY": 4,
            "symbolType": "stroke", "symbolSize": 625, "symbolStrokeWidth": 1.6, "symbolLimit": 64,
            "labelFontSize": 11, "labelOffset": 10, "clipHeight": 13, "rowPadding": 4.16, "padding": 4
          }
        },
        "strokeDash": {
          "field": "s", "type": "nominal",
          "scale": {
            "domain": ["PPPPP","PPPPS","PPPSP","PPPSS","PPSPP","PPSPS","PPSSP","PPSSS","PSPPP","PSPPS","PSPSP","PSPSS","PSSPP","PSSPS","PSSSP","PSSSS","SPPPP","SPPPS","SPPSP","SPPSS","SPSPP","SPSPS","SPSSP","SPSSS","SSPPP","SSPPS","SSPSP","SSPSS","SSSPP","SSSPS","SSSSP","SSSSS"],
            "range": [[1,0],[8,3,1.5,3],[8,3,1.5,3],[8,3,1.5,3],[8,3,1.5,3],[8,3,1.5,3],[8,3,1.5,3],[8,3,1.5,3],[8,3,1.5,3],[8,3,1.5,3],[1,0],[8,3,1.5,3],[8,3,1.5,3],[8,3,1.5,3],[1,0],[8,3,1.5,3],[8,3,1.5,3],[8,3,1.5,3],[8,3,1.5,3],[8,3,1.5,3],[8,3,1.5,3],[8,3,1.5,3],[8,3,1.5,3],[8,3,1.5,3],[8,3,1.5,3],[8,3,1.5,3],[8,3,1.5,3],[8,3,1.5,3],[8,3,1.5,3],[8,3,1.5,3],[8,3,1.5,3],[1,0]]
          },
          "legend": {
            "title": null, "orient": "none", "direction": "vertical", "legendX": 433, "legendY": 4,
            "symbolType": "stroke", "symbolSize": 625, "symbolStrokeWidth": 1.6, "symbolLimit": 64,
            "labelFontSize": 11, "labelOffset": 10, "clipHeight": 13, "rowPadding": 4.16, "padding": 4
          }
        }
      }
    }
  ],
  "config": {
    "font": "DejaVu Sans",
    "view": {"stroke": "#3d3d3d", "strokeWidth": 1.2},
    "title": {"font": "DejaVu Sans", "fontWeight": "normal", "color": "#1a1a1a", "offset": 6, "anchor": "middle"},
    "axis": {
      "grid": true, "gridColor": "#c6c6c6", "gridWidth": 1, "domain": false,
      "ticks": true, "tickSize": 4, "tickColor": "#3d3d3d", "tickWidth": 1,
      "labelFont": "DejaVu Sans", "labelFontSize": 11.5, "labelColor": "#262626",
      "labelFlush": false, "labelPadding": 5
    },
    "legend": {
      "labelFont": "DejaVu Sans", "labelColor": "#262626",
      "strokeColor": "#d9d9d9", "fillColor": "white", "cornerRadius": 3
    }
  }
}
